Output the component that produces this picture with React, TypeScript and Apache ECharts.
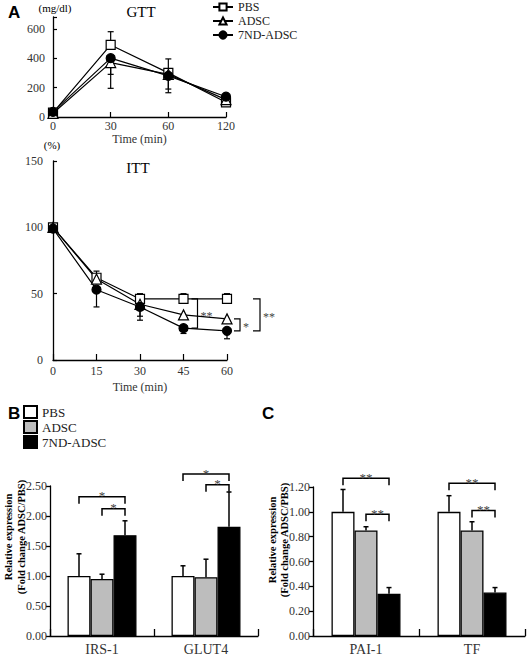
import React, { useEffect, useRef } from 'react';
import * as echarts from 'echarts';

const groupNames = ['PBS', 'ADSC', '7ND-ADSC'];

// ---- A: GTT ----
const gttTimeLabels = ['0', '30', '60', '120'];
const gttPBS = [30, 490, 300, 100];
const gttADSC = [25, 370, 290, 118];
const gtt7ND = [35, 400, 280, 138];
const gttPBSErr = [null, 580, 395, null];
const gttADSCErr = [null, 290, 190, null];
const gtt7NDErr = [null, 195, 165, null];
const gttYLabels = [0, 200, 400, 600];
const gttYMax = 680;

// ---- A: ITT ----
const ittTimes = [0, 15, 30, 45, 60];
const ittPBS = [100, 62, 46, 46, 46];
const ittADSC = [100, 61, 42, 34, 31];
const itt7ND = [99, 53, 40, 24, 22];
const ittPBSErr = [null, 67, 50, 50, 50];
const ittADSCErr = [null, null, 33, null, null];
const itt7NDErr = [null, 40, 30, 20, 16];
// [time, group A index, group B index, number of stars]
const ittSig = [
  [45, 0, 2, 2],
  [60, 1, 2, 1],
  [60, 0, 2, 2],
];

// ---- B ----
const bCategories = ['IRS-1', 'GLUT4'];
const bPBS = [1.0, 1.0];
const bPBSErr = [1.37, 1.17];
const bADSC = [0.95, 0.98];
const bADSCErr = [1.03, 1.28];
const b7ND = [1.68, 1.82];
const b7NDErr = [1.92, 2.4];
// [category, bar A, bar B, bracket height, stars]
const bSig = [
  [0, 0, 2, 2.32, 1],
  [0, 1, 2, 2.12, 1],
  [1, 0, 2, 2.7, 1],
  [1, 1, 2, 2.52, 1],
];

// ---- C ----
const cCategories = ['PAI-1', 'TF'];
const cPBS = [1.0, 1.0];
const cPBSErr = [1.18, 1.13];
const cADSC = [0.85, 0.85];
const cADSCErr = [0.88, 0.92];
const c7ND = [0.34, 0.35];
const c7NDErr = [0.39, 0.39];
const cSig = [
  [0, 0, 2, 1.27, 2],
  [0, 1, 2, 0.98, 2],
  [1, 0, 2, 1.23, 2],
  [1, 1, 2, 1.01, 2],
];

// ---- styles ----
const SERIF = '"Liberation Serif", "Times New Roman", serif';
const SANS = '"Liberation Sans", Arial, sans-serif';
const BAR_W = 23;
const ITT_BRACKET_OFFSET = [14, 13, 33];
const ITT_BRACKET_ARM = [6, 6, 7];
const barColors = ['#ffffff', '#bdbdbd', '#000000'];
const LABEL_COLOR = '#333333';
const STAR_COLOR = '#444444';

const axisLine = { show: true, lineStyle: { color: '#000', width: 1.3 } };

function lineErrRender(params: any, api: any) {
  const x = api.value(0);
  const p1 = api.coord([x, api.value(1)]);
  const p2 = api.coord([x, api.value(2)]);
  const st = { stroke: '#000', lineWidth: 1.2 };
  return {
    type: 'group',
    children: [
      { type: 'line', shape: { x1: p1[0], y1: p1[1], x2: p2[0], y2: p2[1] }, style: st },
      { type: 'line', shape: { x1: p2[0] - 3, y1: p2[1], x2: p2[0] + 3, y2: p2[1] }, style: st },
    ],
  };
}

function barErrRender(params: any, api: any) {
  const cat = api.value(0);
  const s = api.value(1);
  const p1 = api.coord([cat, api.value(2)]);
  const p2 = api.coord([cat, api.value(3)]);
  const x = p1[0] + (s - 1) * BAR_W;
  const st = { stroke: '#000', lineWidth: 1.5 };
  return {
    type: 'group',
    children: [
      { type: 'line', shape: { x1: x, y1: p1[1], x2: x, y2: p2[1] }, style: st },
      { type: 'line', shape: { x1: x - 2.5, y1: p2[1], x2: x + 2.5, y2: p2[1] }, style: st },
    ],
  };
}

function barSigRender(params: any, api: any) {
  const cat = api.value(0);
  const a = api.value(1);
  const b = api.value(2);
  const c = api.coord([cat, api.value(3)]);
  const n = api.value(4);
  const x1 = c[0] + (a - 1) * BAR_W;
  const x2 = c[0] + (b - 1) * BAR_W;
  const y = c[1];
  return {
    type: 'group',
    children: [
      {
        type: 'polyline',
        shape: { points: [[x1, y + 7], [x1, y], [x2, y], [x2, y + 7]] },
        style: { stroke: '#000', lineWidth: 1.5, fill: null },
      },
      {
        type: 'text',
        style: {
          text: '*'.repeat(n),
          x: (x1 + x2) / 2,
          y: y - 1,
          align: 'center',
          verticalAlign: 'middle',
          textAlign: 'center',
          textVerticalAlign: 'middle',
          font: `13px ${SERIF}`,
          fill: STAR_COLOR,
        },
      },
    ],
  };
}

function ittSigRender(params: any, api: any) {
  const t = api.value(0);
  const pT = api.coord([t, api.value(1)]);
  const pB = api.coord([t, api.value(2)]);
  const n = api.value(3);
  const idx = api.value(4);
  const xv = pT[0] + ITT_BRACKET_OFFSET[idx];
  const arm = ITT_BRACKET_ARM[idx];
  return {
    type: 'group',
    children: [
      {
        type: 'polyline',
        shape: { points: [[xv - arm, pT[1]], [xv, pT[1]], [xv, pB[1]], [xv - arm, pB[1]]] },
        style: { stroke: '#000', lineWidth: 1.2, fill: null },
      },
      {
        type: 'text',
        style: {
          text: '*'.repeat(n),
          x: xv + 3,
          y: (pT[1] + pB[1]) / 2 + 2,
          align: 'left',
          verticalAlign: 'middle',
          textAlign: 'left',
          textVerticalAlign: 'middle',
          font: `12px ${SERIF}`,
          fill: STAR_COLOR,
        },
      },
    ],
  };
}

const ittSeriesVals = [ittPBS, ittADSC, itt7ND];

function lineErrData(vals: number[], errs: (number | null)[], xs: number[]) {
  const out: number[][] = [];
  vals.forEach((v, i) => {
    const e = errs[i];
    if (e != null) out.push([xs[i], v, e]);
  });
  return out;
}

function barErrData(series: number[][], errs: number[][]) {
  const out: number[][] = [];
  series.forEach((vals, s) => vals.forEach((v, c) => out.push([c, s, v, errs[s][c]])));
  return out;
}

const symbols = ['rect', 'triangle', 'circle'];
const symbolSizes = [9, 10, 9];
const symbolFill = ['#ffffff', '#ffffff', '#000000'];

function lineSeries(name: string, i: number, data: any[], axis: number) {
  return {
    type: 'line',
    name,
    xAxisIndex: axis,
    yAxisIndex: axis,
    data,
    symbol: symbols[i],
    symbolSize: symbolSizes[i],
    showAllSymbol: true,
    z: 3,
    lineStyle: { color: '#000', width: 1.2 },
    itemStyle: { color: symbolFill[i], borderColor: '#000', borderWidth: 1.2 },
  };
}

function buildOption() {
  const gttIdx = gttTimeLabels.map((_, i) => i);
  const gttVals = [gttPBS, gttADSC, gtt7ND];
  const gttErrs = [gttPBSErr, gttADSCErr, gtt7NDErr];
  const ittErrs = [ittPBSErr, ittADSCErr, itt7NDErr];
  const bVals = [bPBS, bADSC, b7ND];
  const bErrs = [bPBSErr, bADSCErr, b7NDErr];
  const cVals = [cPBS, cADSC, c7ND];
  const cErrs = [cPBSErr, cADSCErr, c7NDErr];

  const series: any[] = [];
  groupNames.forEach((n, i) => series.push(lineSeries(n, i, gttVals[i], 0)));
  groupNames.forEach((n, i) =>
    series.push(lineSeries(n, i, ittTimes.map((t, k) => [t, ittSeriesVals[i][k]]), 1))
  );
  groupNames.forEach((n, i) =>
    series.push({
      type: 'custom',
      xAxisIndex: 0,
      yAxisIndex: 0,
      z: 2,
      renderItem: lineErrRender,
      encode: { x: 0, y: [1, 2] },
      data: lineErrData(gttVals[i], gttErrs[i], gttIdx),
    })
  );
  groupNames.forEach((n, i) =>
    series.push({
      type: 'custom',
      xAxisIndex: 1,
      yAxisIndex: 1,
      z: 2,
      renderItem: lineErrRender,
      encode: { x: 0, y: [1, 2] },
      data: lineErrData(ittSeriesVals[i], ittErrs[i], ittTimes),
    })
  );
  series.push({
    type: 'custom',
    xAxisIndex: 1,
    yAxisIndex: 1,
    z: 2,
    clip: false,
    renderItem: ittSigRender,
    encode: { x: 0, y: [1, 2] },
    data: ittSig.map((s, k) => [s[0], ittSeriesVals[s[1]][ittTimes.indexOf(s[0])], ittSeriesVals[s[2]][ittTimes.indexOf(s[0])], s[3], k]),
  });

  [
    { vals: bVals, errs: bErrs, sig: bSig, axis: 2 },
    { vals: cVals, errs: cErrs, sig: cSig, axis: 3 },
  ].forEach((p) => {
    groupNames.forEach((n, i) =>
      series.push({
        type: 'bar',
        name: n + ' ',
        xAxisIndex: p.axis,
        yAxisIndex: p.axis,
        data: p.vals[i],
        barWidth: BAR_W,
        barGap: '0%',
        z: 2,
        itemStyle: { color: barColors[i], borderColor: '#000', borderWidth: 1.3 },
      })
    );
    series.push({
      type: 'custom',
      xAxisIndex: p.axis,
      yAxisIndex: p.axis,
      z: 3,
      clip: false,
      renderItem: barErrRender,
      encode: { x: 0, y: 3 },
      data: barErrData(p.vals, p.errs),
    });
    series.push({
      type: 'custom',
      xAxisIndex: p.axis,
      yAxisIndex: p.axis,
      z: 3,
      clip: false,
      renderItem: barSigRender,
      encode: { x: 0, y: 3 },
      data: p.sig,
    });
  });

  const lbl = (size: number, margin: number) => ({
    fontFamily: SERIF,
    fontSize: size,
    color: LABEL_COLOR,
    margin,
  });

  const text = (t: string, x: number, y: number, font: string, align = 'center', extra: any = {}) => ({
    type: 'text',
    x,
    y,
    ...extra,
    style: {
      text: t,
      x: 0,
      y: 0,
      font,
      fill: '#000',
      align,
      textAlign: align,
      verticalAlign: 'middle',
      textVerticalAlign: 'middle',
    },
  });

  return {
    animation: false,
    backgroundColor: '#fff',
    grid: [
      { left: 53, top: 17, width: 173, height: 100 },
      { left: 53, top: 161, width: 174, height: 199 },
      { left: 50, top: 486, width: 208, height: 150 },
      { left: 313, top: 487, width: 212, height: 149 },
    ],
    xAxis: [
      {
        type: 'category',
        gridIndex: 0,
        data: gttTimeLabels,
        boundaryGap: false,
        axisLine,
        axisTick: { show: true, inside: true, length: 5, lineStyle: { color: '#000', width: 1.2 } },
        axisLabel: lbl(12, 3),
        name: 'Time (min)',
        nameLocation: 'middle',
        nameGap: 14,
        nameTextStyle: { fontFamily: SERIF, fontSize: 12, color: LABEL_COLOR },
        splitLine: { show: false },
      },
      {
        type: 'value',
        gridIndex: 1,
        min: 0,
        max: 60,
        interval: 15,
        axisLine,
        axisTick: { show: true, inside: true, length: 6, lineStyle: { color: '#000', width: 1.2 } },
        axisLabel: lbl(12, 5),
        name: 'Time (min)',
        nameLocation: 'middle',
        nameGap: 21,
        nameTextStyle: { fontFamily: SERIF, fontSize: 12, color: LABEL_COLOR },
        splitLine: { show: false },
      },
      {
        type: 'category',
        gridIndex: 2,
        data: bCategories,
        axisLine,
        axisTick: { show: true, inside: true, length: 7, lineStyle: { color: '#000', width: 1.3 } },
        axisLabel: lbl(14, 6),
        splitLine: { show: false },
      },
      {
        type: 'category',
        gridIndex: 3,
        data: cCategories,
        axisLine,
        axisTick: { show: true, inside: true, length: 7, lineStyle: { color: '#000', width: 1.3 } },
        axisLabel: lbl(14, 6),
        splitLine: { show: false },
      },
    ],
    yAxis: [
      {
        type: 'value',
        gridIndex: 0,
        min: 0,
        max: gttYMax,
        axisLine,
        axisTick: {
          show: true,
          inside: true,
          length: 4,
          customValues: [...gttYLabels, gttYMax],
          lineStyle: { color: '#000', width: 1.2 },
        },
        axisLabel: { ...lbl(12, 8), customValues: gttYLabels },
        splitLine: { show: false },
      },
      {
        type: 'value',
        gridIndex: 1,
        min: 0,
        max: 150,
        interval: 50,
        axisLine,
        axisTick: { show: true, inside: true, length: 4, lineStyle: { color: '#000', width: 1.2 } },
        axisLabel: lbl(12, 10),
        splitLine: { show: false },
      },
      {
        type: 'value',
        gridIndex: 2,
        min: 0,
        max: 2.5,
        interval: 0.5,
        axisLine,
        axisTick: { show: true, length: 4, lineStyle: { color: '#000', width: 1.3 } },
        axisLabel: { ...lbl(12, 3), formatter: (v: number) => v.toFixed(2) },
        splitLine: { show: false },
      },
      {
        type: 'value',
        gridIndex: 3,
        min: 0,
        max: 1.2,
        interval: 0.2,
        axisLine,
        axisTick: { show: true, length: 4, lineStyle: { color: '#000', width: 1.3 } },
        axisLabel: { ...lbl(12, 3), formatter: (v: number) => v.toFixed(2) },
        splitLine: { show: false },
      },
    ],
    legend: [
      {
        data: groupNames,
        orient: 'vertical',
        left: 212,
        top: 1,
        padding: 0,
        itemGap: 2,
        itemWidth: 20,
        itemHeight: 9,
        selectedMode: false,
        textStyle: { fontFamily: SERIF, fontSize: 12, color: '#222' },
      },
      {
        data: groupNames.map((n) => ({ name: n + ' ', icon: 'rect' })),
        orient: 'vertical',
        left: 23,
        top: 405,
        padding: 0,
        itemGap: 1,
        itemWidth: 13,
        itemHeight: 12,
        selectedMode: false,
        formatter: (n: string) => n.trim(),
        textStyle: { fontFamily: SERIF, fontSize: 13, color: '#222' },
      },
    ],
    graphic: [
      text('A', 8, 12, `bold 17px ${SANS}`, 'left'),
      text('(mg/dl)', 55, 8, `11px ${SERIF}`),
      text('GTT', 141, 12, `15px ${SERIF}`),
      text('(%)', 52, 145, `11px ${SERIF}`),
      text('ITT', 138, 168, `15px ${SERIF}`),
      text('B', 8, 413, `bold 17px ${SANS}`, 'left'),
      text('C', 262, 413, `bold 17px ${SANS}`, 'left'),
      text('Relative expression', 8, 537, `bold 10.5px ${SERIF}`, 'center', { rotation: Math.PI / 2 }),
      text('(Fold change ADSC/PBS)', 21, 537, `bold 10.5px ${SERIF}`, 'center', { rotation: Math.PI / 2 }),
      text('Relative expression', 272, 540, `bold 10.5px ${SERIF}`, 'center', { rotation: Math.PI / 2 }),
      text('(Fold change ADSC/PBS)', 284, 540, `bold 10.5px ${SERIF}`, 'center', { rotation: Math.PI / 2 }),
    ],
    series,
  };
}

export default function App() {
  const ref = useRef<HTMLDivElement>(null);
  useEffect(() => {
    const chart = echarts.init(ref.current!, null, { renderer: 'svg' });
    chart.setOption(buildOption() as any);
    return () => chart.dispose();
  }, []);
  return <div ref={ref} style={{ position: 'absolute', left: 0, top: 0, width: 527, height: 656 }} />;
}
